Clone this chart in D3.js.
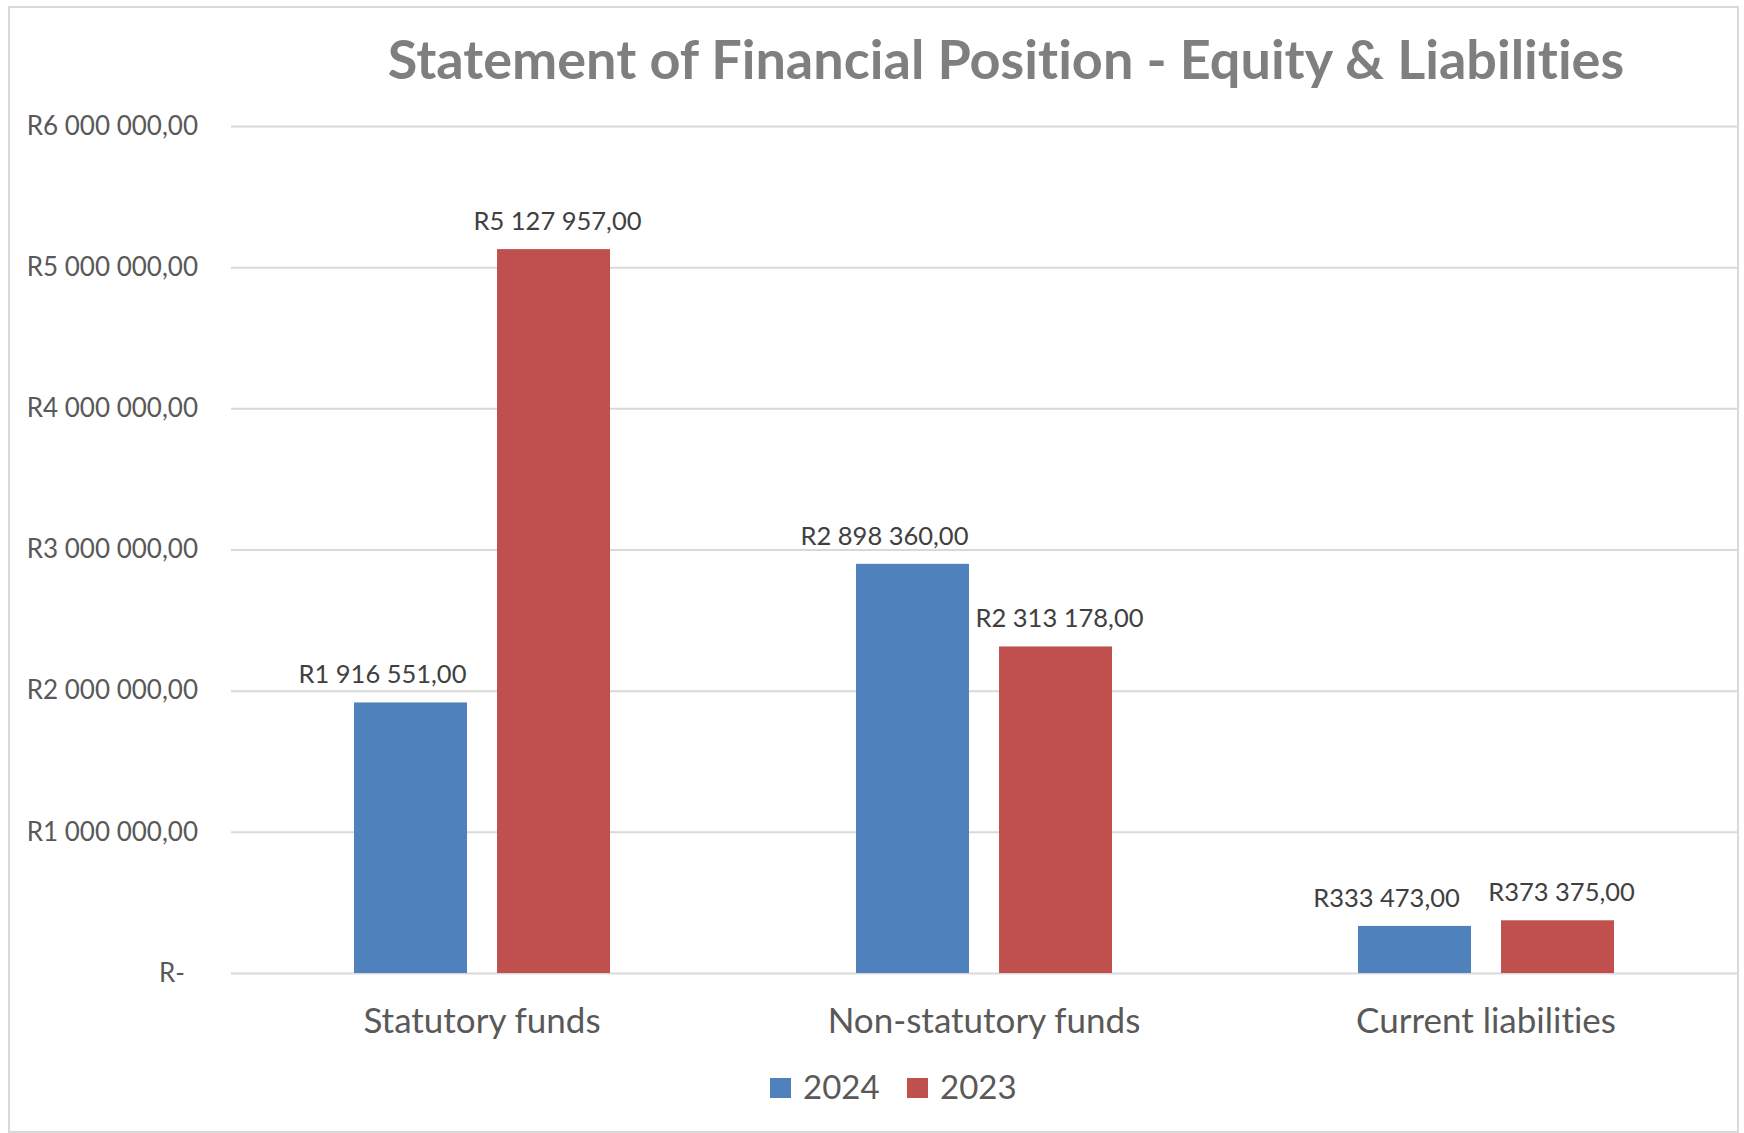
<!DOCTYPE html>
<html>
<head>
<meta charset="utf-8">
<script src="https://cdn.jsdelivr.net/npm/d3@7"></script>
<style>
  body { margin: 0; background: #fff; }
  svg { display: block; font-family: Lato, "Open Sans", sans-serif; font-variant-ligatures: none; }
</style>
</head>
<body>
<svg id="graph" width="1744" height="1133"></svg>
<script>
// données
var categories = ["Statutory funds", "Non-statutory funds", "Current liabilities"];
var series = ["2024", "2023"];
var values2024 = [1916551, 2898360, 333473];
var values2023 = [5127957, 2313178, 373375];
var yTicks = [0, 1000000, 2000000, 3000000, 4000000, 5000000, 6000000];
var titre = "Statement of Financial Position - Equity & Liabilities";

var couleurs = {"2024": "#4f81bd", "2023": "#c0504d"};
var decalLabel = {"2024": -28, "2023": 4}; // labels bleus déplacés à gauche

// format rand sud-africain : R6 000 000,00
var locale = d3.formatLocale({decimal: ",", thousands: "\u00a0", grouping: [3], currency: ["R", ""]});
var fmt = locale.format("$,.2f");
function rand(v){
	if(v === 0){ return "R-\u2002"; }
	return fmt(v).replace(/\u00a0/g, " ");
}

var svg = d3.select("#graph");

// cadre
svg.append("rect")
	.attr("x", 9).attr("y", 7)
	.attr("width", 1729).attr("height", 1125)
	.attr("fill", "#fff").attr("stroke", "#d9d9d9").attr("stroke-width", 2);

// titre
svg.append("text")
	.attr("x", 1006).attr("y", 79)
	.attr("text-anchor", "middle")
	.attr("font-size", 54).attr("font-weight", "bold")
	.attr("fill", "#7f7f7f")
	.text(titre);

// scaleY
var scaleY = d3.scaleLinear().domain([0, 6000000]).range([973, 126]);
// scaleX
var left = 231, right = 1737;
var scaleX = d3.scaleBand().domain(categories).range([left, right]).padding(0);
var scaleS = d3.scaleBand().domain(series).range([0, scaleX.bandwidth()])
	.paddingInner(0.21).paddingOuter(0.86);

// Axe Y + grille
var gy = svg.append("g").attr("transform", "translate(" + left + ",0)")
	.call(d3.axisLeft(scaleY).tickValues(yTicks).tickFormat(rand)
		.tickSize(-(right - left)).tickPadding(33));
gy.select(".domain").remove();
gy.selectAll(".tick line").attr("stroke", "#d9d9d9").attr("stroke-width", 2);
gy.selectAll(".tick text").attr("font-size", 26).attr("fill", "#595959")
	.attr("font-family", "Lato, sans-serif");

// Axe X
var gx = svg.append("g").attr("transform", "translate(0," + scaleY(0) + ")")
	.call(d3.axisBottom(scaleX).tickSize(0).tickPadding(35));
gx.select(".domain").remove();
gx.selectAll(".tick text").attr("font-size", 35).attr("fill", "#595959")
	.attr("font-family", "Lato, sans-serif");

// barres
var table = [];
categories.forEach(function(c, i){
	table.push({cat: c, serie: "2024", v: values2024[i]});
	table.push({cat: c, serie: "2023", v: values2023[i]});
});

svg.append("g").selectAll("rect").data(table).join("rect")
	.attr("x", function(d){ return scaleX(d.cat) + scaleS(d.serie); })
	.attr("y", function(d){ return scaleY(d.v); })
	.attr("width", scaleS.bandwidth())
	.attr("height", function(d){ return scaleY(0) - scaleY(d.v); })
	.attr("fill", function(d){ return couleurs[d.serie]; });

// étiquettes
svg.append("g").selectAll("text").data(table).join("text")
	.attr("x", function(d){ return scaleX(d.cat) + scaleS(d.serie) + scaleS.bandwidth() / 2 + decalLabel[d.serie]; })
	.attr("y", function(d){ return scaleY(d.v) - 19; })
	.attr("text-anchor", "middle")
	.attr("font-size", 25.5).attr("fill", "#404040")
	.text(function(d){ return rand(d.v); });

// légende
var leg = svg.append("g").selectAll("g").data(series).join("g")
	.attr("transform", function(d, i){ return "translate(" + (770 + i * 137) + ",1078)"; });
leg.append("rect").attr("width", 21).attr("height", 20)
	.attr("fill", function(d){ return couleurs[d]; });
leg.append("text").attr("x", 33).attr("y", 21)
	.attr("font-size", 33).attr("fill", "#595959")
	.text(function(d){ return d; });
</script>
</body>
</html>
